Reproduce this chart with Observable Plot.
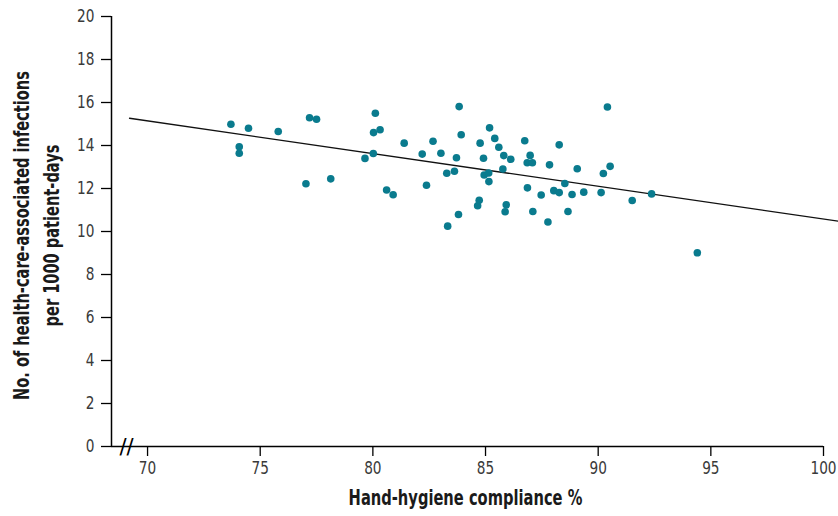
<!DOCTYPE html>
<html>
<head>
<meta charset="utf-8">
<script src="https://cdn.jsdelivr.net/npm/d3@7"></script>
<script src="https://cdn.jsdelivr.net/npm/@observablehq/plot@0.6"></script>
<style>
  html, body { margin: 0; padding: 0; background: #fff; }
  #chart svg { display: block; }
</style>
</head>
<body>
<div id="chart"></div>
<script>
// Hand-hygiene compliance (%) for each unit
const compliance = [
  73.70, 74.48, 74.07, 74.07, 75.80, 77.03, 77.19, 77.50, 78.13, 79.65,
  80.02, 80.03, 80.11, 80.32, 80.61, 80.90, 81.39, 82.19, 82.38, 82.67,
  83.02, 83.28, 83.32, 83.62, 83.71, 83.80, 83.83, 83.92, 84.65, 84.72,
  84.76, 84.91, 84.94, 85.14, 85.15, 85.18, 85.41, 85.59, 85.81, 85.77,
  85.92, 85.87, 86.12, 86.74, 86.98, 86.85, 87.08, 86.86, 87.10, 87.47,
  87.77, 87.84, 88.27, 88.03, 88.27, 88.52, 88.84, 88.66, 89.07, 89.36,
  90.13, 90.23, 90.41, 90.53, 91.51, 92.37, 94.40
];
// Health-care-associated infections per 1000 patient-days
const infections = [
  14.99, 14.80, 13.94, 13.64, 14.65, 12.22, 15.29, 15.22, 12.45, 13.40,
  13.63, 14.60, 15.50, 14.73, 11.93, 11.71, 14.11, 13.60, 12.15, 14.20,
  13.64, 12.71, 10.25, 12.80, 13.43, 10.79, 15.81, 14.50, 11.20, 11.45,
  14.11, 13.41, 12.63, 12.72, 12.32, 14.82, 14.33, 13.92, 13.53, 12.91,
  11.24, 10.92, 13.36, 14.22, 13.54, 13.20, 13.20, 12.03, 10.93, 11.70,
  10.44, 13.10, 14.03, 11.90, 11.81, 12.23, 11.72, 10.93, 12.92, 11.83,
  11.81, 12.70, 15.79, 13.03, 11.44, 11.75, 9.01
];
// Fitted trend line: infections = intercept + slope * compliance
const fitIntercept = 25.80;
const fitSlope = -0.1522;
const fitRange = [69.2, 100.7];

const xTicks = [70, 75, 80, 85, 90, 95, 100];
const yTicks = [0, 2, 4, 6, 8, 10, 12, 14, 16, 18, 20];
const xDomain = [68.4, 100];
const yDomain = [0, 20];

const yTitle = "No. of health-care-associated infections\nper 1000 patient-days";
const xTitle = "Hand-hygiene compliance %";

const points = compliance.map((c, i) => ({x: c, y: infections[i]}));
const fit = fitRange.map(x => ({x, y: fitIntercept + fitSlope * x}));

const FONT = "'DejaVu Sans', sans-serif";

const chart = Plot.plot({
  width: 838,
  height: 516,
  marginLeft: 111,
  marginRight: 15,
  marginTop: 16,
  marginBottom: 70,
  style: {fontFamily: FONT, background: "#fff", overflow: "visible"},
  x: {domain: xDomain},
  y: {domain: yDomain},
  marks: [
    Plot.axisY({ticks: yTicks, tickSize: 10, tickPadding: 7, fontSize: 18,
      color: "#3a3a3a", stroke: "#000", strokeWidth: 1.3, strokeOpacity: 1, label: null}),
    Plot.axisX({ticks: xTicks, tickSize: 10, tickPadding: 5, fontSize: 18,
      color: "#3a3a3a", stroke: "#000", strokeWidth: 1.3, strokeOpacity: 1, label: null}),
    Plot.ruleY([yDomain[0]], {stroke: "#000", strokeWidth: 1.5}),
    Plot.ruleX([xDomain[0]], {stroke: "#000", strokeWidth: 1.5}),
    Plot.text([xTitle], {frameAnchor: "bottom", text: d => d, dy: 51, dx: -2, fontSize: 22,
      fontWeight: "bold", fill: "#1a1a1a", lineAnchor: "middle"}),
    Plot.text([yTitle], {frameAnchor: "left", text: d => d, dx: -77, dy: 4, rotate: -90,
      fontSize: 22, fontWeight: "bold", fill: "#1a1a1a", lineHeight: 1.38,
      lineAnchor: "middle", textAnchor: "middle"}),
    Plot.text(["//"], {frameAnchor: "bottom-left", text: d => d, dx: 15, dy: 1, fontSize: 21,
      fill: "#000", lineAnchor: "middle", textAnchor: "middle"}),
    Plot.line(fit, {x: "x", y: "y", stroke: "#111", strokeWidth: 1.3}),
    Plot.dot(points, {x: "x", y: "y", r: 3.8, fill: "#0a7b8e", stroke: "none"})
  ]
});
document.getElementById("chart").appendChild(chart);

// Condense glyphs horizontally (no condensed face installed) to match the reference widths.
function squeeze(el, f) {
  const t = el.getAttribute("transform") || "";
  el.setAttribute("transform", t + ` scale(${f},1)`);
}
d3.select(chart).selectAll('g[aria-label="y-axis tick label"] text, g[aria-label="x-axis tick label"] text')
  .each(function() { squeeze(this, 0.76); });
d3.select(chart).selectAll("text").each(function() {
  const s = this.textContent;
  if (s.startsWith("Hand-hygiene")) squeeze(this, 234 / this.getBBox().width);
  else if (s.startsWith("No. of")) squeeze(this, 329 / this.getBBox().width);
});
</script>
</body>
</html>
